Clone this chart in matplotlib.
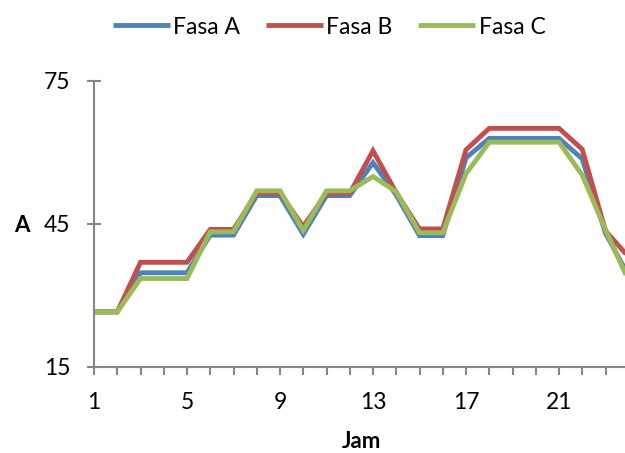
import matplotlib
matplotlib.use("Agg")
import matplotlib.pyplot as plt

# data
jam = list(range(1, 25))
fasa_a = [26.5, 26.5, 34.7, 34.7, 34.7, 42.6, 42.6, 50.9, 50.9, 42.8, 50.9, 50.9,
          57.8, 51.0, 42.5, 42.5, 58.8, 62.9, 62.9, 62.9, 62.9, 58.6, 43.0, 34.0]
fasa_b = [26.5, 26.5, 36.9, 36.9, 36.9, 43.8, 43.8, 51.4, 51.4, 44.4, 51.4, 51.4,
          60.3, 51.5, 43.9, 43.9, 60.5, 65.0, 65.0, 65.0, 65.0, 60.6, 43.5, 38.0]
fasa_c = [26.5, 26.5, 33.5, 33.5, 33.5, 43.3, 43.3, 51.9, 51.9, 43.6, 51.9, 51.9,
          54.9, 51.7, 43.1, 43.1, 55.5, 62.1, 62.1, 62.1, 62.1, 55.2, 43.7, 33.0]
series_names = ["Fasa A", "Fasa B", "Fasa C"]
x_labels = ["1", "5", "9", "13", "17", "21"]
y_ticks = [15, 45, 75]

colors = ["#4F81BD", "#C0504D", "#9BBB59"]
axis_gray = "#868686"

plt.rcParams["font.family"] = ["Lato", "DejaVu Sans"]
plt.rcParams["font.size"] = 16.5

W, H = 625, 453
fig = plt.figure(figsize=(W / 100, H / 100), dpi=100)

# plot area in pixels: x=1 at 94, x=24 at ~629 (cut by the image edge), y 80.7..366.7
left, right, top, bottom = 94, 628.75, 80.7, 366.7
ax = fig.add_axes([left / W, 1 - bottom / H, (right - left) / W, (bottom - top) / H])

for vals, name, c in zip([fasa_a, fasa_b, fasa_c], series_names, colors):
    ax.plot(jam, vals, color=c, lw=3.5, label=name, solid_joinstyle="miter",
            solid_capstyle="butt")

ax.set_xlim(1, 24)
ax.set_ylim(15, 75)

# tick marks at every hour, labels every fourth hour
ax.set_xticks(jam)
ax.set_xticklabels([str(j) if str(j) in x_labels else "" for j in jam])
ax.set_yticks(y_ticks)
ax.set_yticklabels([str(v) for v in y_ticks])

for s in ["top", "right"]:
    ax.spines[s].set_visible(False)
for s in ["left", "bottom"]:
    ax.spines[s].set_color(axis_gray)
    ax.spines[s].set_linewidth(1.5)

ax.tick_params(axis="x", direction="out", length=5.5, width=1.5, color=axis_gray,
               pad=13, labelsize=16.5)
ax.tick_params(axis="y", direction="inout", length=10, width=1.5, color=axis_gray,
               pad=12, labelsize=16.5)

ax.set_xlabel("Jam", fontweight="bold", fontsize=16)
ax.xaxis.set_label_coords((362 - left) / (right - left), (bottom - 441) / (bottom - top))
ax.xaxis.label.set_va("center")
ax.set_ylabel("A", fontweight="bold", fontsize=16, rotation=0, va="center", ha="center")
ax.yaxis.set_label_coords((22 - left) / (right - left), (bottom - 226) / (bottom - top))

fig.legend(loc="center", bbox_to_anchor=(329 / W, 1 - 27 / H), ncol=3, frameon=False,
           handlelength=2.5, handletextpad=0.15, columnspacing=1.1, fontsize=16.5,
           borderaxespad=0, borderpad=0)

fig.savefig("out.png", dpi=100)
